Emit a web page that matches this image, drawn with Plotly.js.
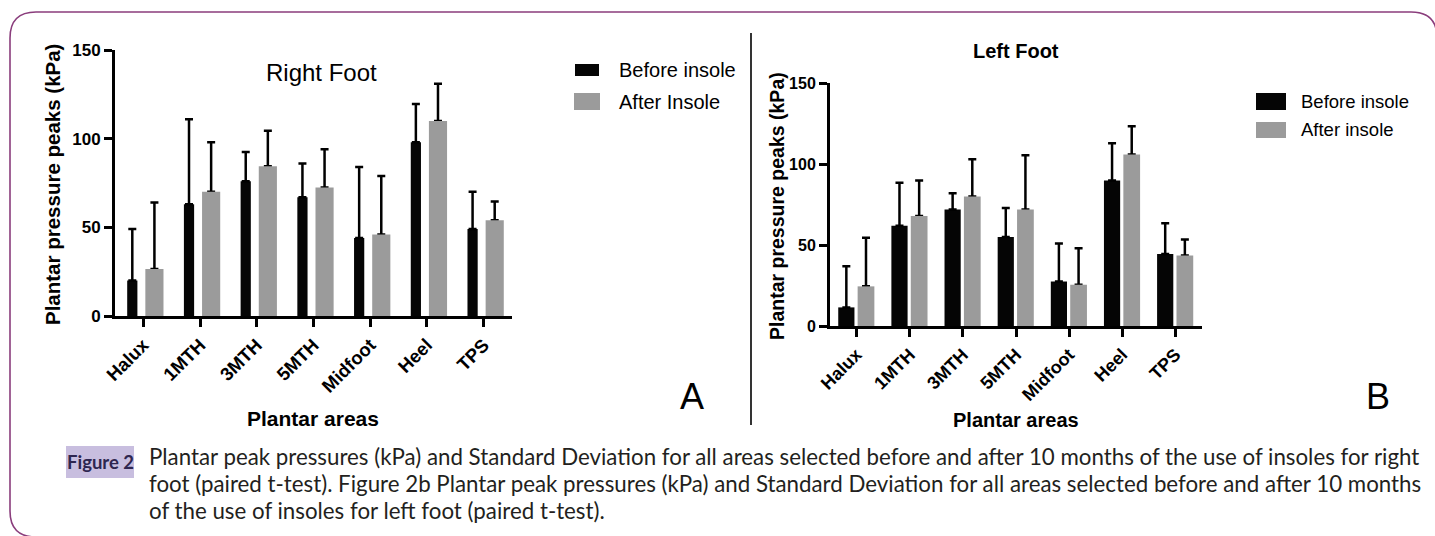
<!DOCTYPE html>
<html>
<head>
<meta charset="utf-8">
<script src="https://cdn.plot.ly/plotly-3.0.1.min.js"></script>
<style>
  html, body { margin: 0; padding: 0; background: #ffffff; }
  #chart { width: 1435px; height: 536px; }
</style>
</head>
<body>
<div id="chart"></div>
<script>
// ---------- Data ----------
const categories = ['Halux', '1MTH', '3MTH', '5MTH', 'Midfoot', 'Heel', 'TPS'];

// Right foot (panel A)
const rightBefore   = [20, 63, 76, 67, 44, 98, 49];
const rightBeforeSD = [29, 48, 16.5, 19, 40, 21.5, 21];
const rightAfter    = [26.5, 70, 84.5, 72.5, 46, 110, 54];
const rightAfterSD  = [37.5, 28, 20, 21.5, 33, 21, 10.5];

// Left foot (panel B)
const leftBefore    = [11.5, 62, 72, 55, 27.5, 90, 44.5];
const leftBeforeSD  = [25.5, 26.5, 10, 18, 23.5, 23, 19];
const leftAfter     = [24.5, 68, 80, 72, 25.5, 106, 43.5];
const leftAfterSD   = [30, 22, 23, 33.5, 22.5, 17.5, 10];

const seriesNames = ['Before insole', 'After Insole', 'After insole'];
const yTicks = [0, 50, 100, 150];

// ---------- Helpers ----------
const W = 1435, H = 536;
const px = v => v / W;
const py = v => 1 - v / H;
const FONT = '"Liberation Sans", Arial, Helvetica, sans-serif';
const CAPFONT = 'Lato, Carlito, Calibri, sans-serif';
const BLACK = '#050505';
const GREY = '#9b9b9b';
const zeros = n => new Array(n).fill(0);

function barTrace(xa, ya, y, color, offset, width, sd, name) {
  const t = {
    type: 'bar', x: categories, y: y, xaxis: xa, yaxis: ya,
    name: name, showlegend: false, hoverinfo: 'x+y',
    offset: offset, width: width,
    marker: { color: color, line: { width: 0 } }
  };
  if (sd) {
    t.error_y = { type: 'data', symmetric: false, array: sd, arrayminus: zeros(sd.length),
                  color: '#000000', thickness: 2.5, width: 4 };
  }
  return t;
}

const data = [
  // Panel A
  barTrace('x', 'y', rightBefore, BLACK, -0.285, 0.18, rightBeforeSD, seriesNames[0]),
  barTrace('x', 'y', rightAfter, 'rgba(0,0,0,0)', 0.035, 0.32, rightAfterSD, seriesNames[1]),
  barTrace('x', 'y', rightAfter, GREY, 0.035, 0.32, null, seriesNames[1]),
  // Panel B
  barTrace('x2', 'y2', leftBefore, BLACK, -0.345, 0.305, leftBeforeSD, seriesNames[0]),
  barTrace('x2', 'y2', leftAfter, 'rgba(0,0,0,0)', 0.02, 0.315, leftAfterSD, seriesNames[2]),
  barTrace('x2', 'y2', leftAfter, GREY, 0.02, 0.315, null, seriesNames[2])
];

function xAxis(domain, anchor, size) {
  return {
    domain: domain, anchor: anchor, type: 'category', range: [-0.5, 6.5],
    showline: true, linecolor: '#000', linewidth: 3, mirror: false,
    ticks: 'outside', ticklen: 8, tickwidth: 3, tickcolor: '#000',
    tickangle: -45, tickfont: { family: FONT, size: size, color: '#000', weight: 700 },
    showgrid: false, zeroline: false, fixedrange: true
  };
}
function yAxis(domain, anchor, size) {
  return {
    domain: domain, anchor: anchor, range: [0, 150],
    tickmode: 'array', tickvals: yTicks, ticktext: yTicks.map(String),
    showline: true, linecolor: '#000', linewidth: 3,
    ticks: 'outside', ticklen: 8, tickwidth: 3, tickcolor: '#000',
    tickfont: { family: FONT, size: size, color: '#000', weight: 700 },
    showgrid: false, zeroline: false, fixedrange: true
  };
}

function ann(text, x, y, size, opts) {
  return Object.assign({
    text: text, xref: 'paper', yref: 'paper', x: px(x), y: py(y),
    xanchor: 'center', yanchor: 'middle', showarrow: false,
    font: { family: FONT, size: size, color: '#000' }
  }, opts || {});
}

const CAPSIZE = 22.3;
const annotations = [
  // Panel A
  ann('Right Foot', 321, 73, 24),
  ann('Plantar pressure peaks (kPa)', 52, 185, 20.5, { textangle: -90, font: { family: FONT, size: 20.5, color: '#000', weight: 700 } }),
  ann('Plantar areas', 313, 418, 21, { font: { family: FONT, size: 21, color: '#000', weight: 700 } }),
  ann('Before insole', 617, 70, 20, { xanchor: 'left' }),
  ann('After Insole', 617, 102, 20, { xanchor: 'left' }),
  ann('A', 692, 397, 36),
  // Panel B
  ann('Left Foot', 1016, 51, 20, { font: { family: FONT, size: 20, color: '#000', weight: 700 } }),
  ann('Plantar pressure peaks (kPa)', 777, 206, 19.5, { textangle: -90, font: { family: FONT, size: 19.5, color: '#000', weight: 700 } }),
  ann('Plantar areas', 1016, 420, 20, { font: { family: FONT, size: 20, color: '#000', weight: 700 } }),
  ann('Before insole', 1299, 101, 18.5, { xanchor: 'left' }),
  ann('After insole', 1299, 129, 18.5, { xanchor: 'left' }),
  ann('B', 1378, 397, 36),
  // Caption
  ann('Figure 2', 100, 462, 18.5, { font: { family: CAPFONT, size: 18.5, color: '#2e2650', weight: 700 } }),
  ann('Plantar peak pressures (kPa) and Standard Deviation for all areas selected before and after 10 months of the use of insoles for right',
      147, 456, CAPSIZE, { xanchor: 'left', font: { family: CAPFONT, size: CAPSIZE, color: '#231f20' } }),
  ann('foot (paired t-test). Figure 2b Plantar peak pressures (kPa) and Standard Deviation for all areas selected before and after 10 months',
      147, 483, CAPSIZE, { xanchor: 'left', font: { family: CAPFONT, size: CAPSIZE, color: '#231f20' } }),
  ann('of the use of insoles for left foot (paired t-test).',
      147, 510, CAPSIZE, { xanchor: 'left', font: { family: CAPFONT, size: CAPSIZE, color: '#231f20' } })
];

function rect(x0, y0, x1, y1, fill) {
  return { type: 'rect', xref: 'paper', yref: 'paper', x0: px(x0), x1: px(x1), y0: py(y1), y1: py(y0),
           fillcolor: fill, line: { width: 0 } };
}

// rounded border path (top-left, top-right, bottom-left corners visible)
const R = 26;
const bL = 10, bT = 12, bR = 1437, bB = 537;
function P(x, y) { return px(x) + ',' + py(y); }
const borderPath =
  'M' + P(bL + R, bB) + ' Q' + P(bL, bB) + ' ' + P(bL, bB - R) +
  ' L' + P(bL, bT + R) + ' Q' + P(bL, bT) + ' ' + P(bL + R, bT) +
  ' L' + P(bR - R, bT) + ' Q' + P(bR, bT) + ' ' + P(bR, bT + R) +
  ' L' + P(bR, bB);

const shapes = [
  { type: 'path', xref: 'paper', yref: 'paper', path: borderPath, line: { color: '#8a3d7c', width: 1.6 } },
  { type: 'line', xref: 'paper', yref: 'paper', x0: px(751), x1: px(751), y0: py(33), y1: py(425), line: { color: '#000', width: 1.6 } },
  // legend swatches A
  rect(575, 64, 599, 76, BLACK),
  rect(574, 93, 600, 110, GREY),
  // legend swatches B
  rect(1256, 93, 1286, 110, BLACK),
  rect(1256, 122, 1286, 138, GREY),
  // caption label box
  rect(66, 446, 134, 478, '#c8bedf')
];

const layout = {
  width: W, height: H,
  margin: { l: 0, r: 0, t: 0, b: 0, pad: 0 },
  paper_bgcolor: '#ffffff', plot_bgcolor: 'rgba(0,0,0,0)',
  barmode: 'overlay', showlegend: false,
  font: { family: FONT, color: '#000' },
  xaxis: xAxis([px(115), px(512)], 'y', 18.5),
  yaxis: yAxis([py(316), py(50)], 'x', 17),
  xaxis2: xAxis([px(830), px(1202)], 'y2', 18),
  yaxis2: yAxis([py(326), py(83.3)], 'x2', 16),
  annotations: annotations,
  shapes: shapes
};

Plotly.newPlot('chart', data, layout, { displayModeBar: false, staticPlot: true });
</script>
</body>
</html>
